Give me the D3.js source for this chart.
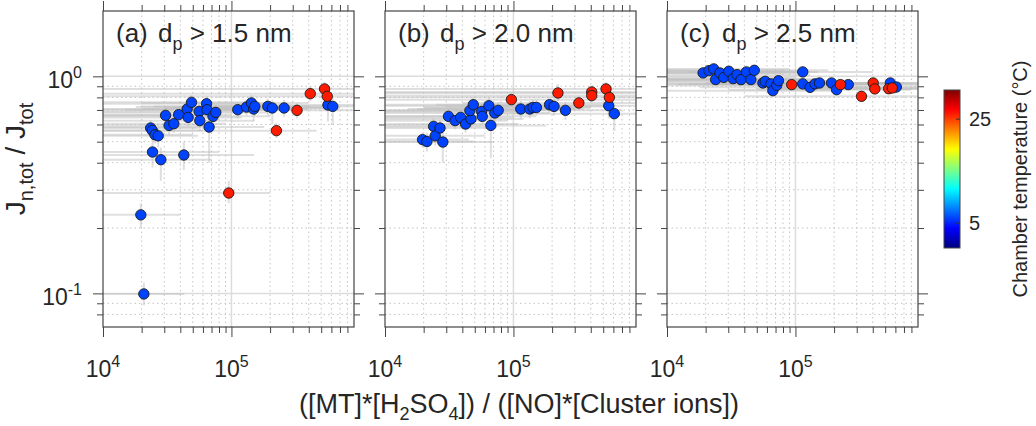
<!DOCTYPE html>
<html>
<head>
<meta charset="utf-8">
<script src="https://cdn.jsdelivr.net/npm/d3@7"></script>
<style>
  body { margin: 0; background: #fff; }
  text { font-family: "Liberation Sans", Arial, Helvetica, sans-serif; fill: #262626; }
</style>
</head>
<body>
<svg id="chart"></svg>
<script>
// [x, y, temperature, xLo, xHi, yLo, yHi]
const panelA = [
  [2.35e4, 0.578, 6, 5e3, 5.5e4, 0.53, 0.63],
  [2.42e4, 0.563, 6, 5e3, 6.0e4, 0.51, 0.61],
  [2.54e4, 0.538, 6, 5e3, 5.0e4, 0.49, 0.58],
  [2.69e4, 0.532, 6, 5e3, 5.5e4, 0.47, 0.58],
  [2.43e4, 0.448, 6, 5e3, 8.0e4, 0.38, 0.52],
  [2.82e4, 0.413, 6, 5e3, 7.0e4, 0.33, 0.47],
  [3.07e4, 0.661, 6, 5e3, 8.0e4, 0.60, 0.72],
  [3.27e4, 0.594, 6, 5e3, 7.0e4, 0.54, 0.65],
  [3.56e4, 0.605, 6, 5e3, 9.0e4, 0.55, 0.66],
  [3.88e4, 0.666, 6, 5e3, 1.0e5, 0.61, 0.72],
  [4.26e4, 0.434, 6, 5e3, 1.5e5, 0.37, 0.50],
  [4.52e4, 0.707, 6, 5e3, 1.2e5, 0.65, 0.77],
  [4.89e4, 0.759, 6, 5e3, 1.3e5, 0.70, 0.82],
  [4.60e4, 0.647, 6, 5e3, 1.2e5, 0.59, 0.71],
  [5.60e4, 0.689, 6, 5e3, 1.5e5, 0.63, 0.75],
  [5.67e4, 0.625, 6, 5e3, 1.5e5, 0.56, 0.69],
  [6.40e4, 0.748, 6, 5e3, 1.8e5, 0.69, 0.81],
  [6.46e4, 0.702, 6, 5e3, 1.7e5, 0.64, 0.76],
  [7.19e4, 0.654, 6, 5e3, 2.0e5, 0.60, 0.71],
  [6.70e4, 0.584, 6, 5e3, 1.8e5, 0.40, 0.64],
  [7.55e4, 0.682, 6, 5e3, 2.0e5, 0.62, 0.74],
  [1.12e5, 0.702, 6, 1.5e4, 3.0e5, 0.64, 0.76],
  [1.31e5, 0.722, 6, 1.8e4, 3.5e5, 0.66, 0.78],
  [1.43e5, 0.754, 6, 2.0e4, 4.0e5, 0.69, 0.82],
  [1.49e5, 0.707, 6, 2.0e4, 4.0e5, 0.62, 0.77],
  [1.52e5, 0.727, 6, 2.0e4, 4.0e5, 0.66, 0.79],
  [1.92e5, 0.727, 6, 2.5e4, 5.0e5, 0.66, 0.79],
  [2.08e5, 0.715, 6, 3.0e4, 5.5e5, 0.60, 0.78],
  [2.57e5, 0.715, 6, 3.5e4, 7.0e5, 0.65, 0.78],
  [5.64e5, 0.738, 6, 7.0e4, 1.5e6, 0.62, 0.80],
  [6.15e5, 0.727, 6, 8.0e4, 1.6e6, 0.60, 0.79],
  [1.97e4, 0.230, 6, 5e3, 4.0e4, 0.20, 0.26],
  [2.08e4, 0.0994, 6, 5e3, 4.3e4, 0.088, 0.112],
  [3.24e5, 0.697, 26, 4.0e4, 1.5e6, 0.64, 0.75],
  [4.11e5, 0.832, 26, 5e3, 2.0e6, 0.77, 0.90],
  [5.31e5, 0.875, 26, 5e3, 2.0e6, 0.81, 0.94],
  [5.57e5, 0.809, 26, 5e3, 2.0e6, 0.75, 0.87],
  [2.24e5, 0.562, 26, 5e3, 4.6e5, 0.52, 0.61],
  [9.53e4, 0.290, 26, 5e3, 2.0e5, 0.26, 0.33]
];

const panelB = [
  [1.96e4, 0.511, 6, 5e3, 4.5e4, 0.47, 0.55],
  [2.12e4, 0.501, 6, 5e3, 5.0e4, 0.45, 0.55],
  [2.39e4, 0.588, 6, 5e3, 6.0e4, 0.54, 0.64],
  [2.46e4, 0.532, 6, 5e3, 6.0e4, 0.48, 0.58],
  [2.68e4, 0.578, 6, 5e3, 6.5e4, 0.53, 0.63],
  [2.82e4, 0.498, 6, 5e3, 7.0e4, 0.40, 0.55],
  [3.12e4, 0.654, 6, 5e3, 8.0e4, 0.60, 0.71],
  [3.51e4, 0.625, 6, 5e3, 9.0e4, 0.57, 0.68],
  [3.88e4, 0.647, 6, 5e3, 1.0e5, 0.59, 0.70],
  [4.24e4, 0.603, 6, 5e3, 1.1e5, 0.55, 0.66],
  [4.67e4, 0.636, 6, 5e3, 1.2e5, 0.58, 0.69],
  [4.58e4, 0.695, 6, 5e3, 1.2e5, 0.64, 0.75],
  [4.87e4, 0.740, 6, 5e3, 1.3e5, 0.68, 0.80],
  [5.65e4, 0.689, 6, 5e3, 1.5e5, 0.63, 0.75],
  [5.72e4, 0.654, 6, 5e3, 1.5e5, 0.60, 0.71],
  [6.44e4, 0.732, 6, 5e3, 1.7e5, 0.67, 0.80],
  [6.67e4, 0.594, 6, 5e3, 1.8e5, 0.42, 0.65],
  [7.16e4, 0.678, 6, 5e3, 1.9e5, 0.62, 0.74],
  [7.61e4, 0.697, 6, 5e3, 2.0e5, 0.64, 0.76],
  [1.14e5, 0.707, 6, 1.5e4, 3.0e5, 0.64, 0.77],
  [1.34e5, 0.707, 6, 1.8e4, 3.5e5, 0.64, 0.77],
  [1.42e5, 0.719, 6, 2.0e4, 4.0e5, 0.66, 0.78],
  [1.51e5, 0.719, 6, 2.0e4, 4.0e5, 0.66, 0.78],
  [1.91e5, 0.740, 6, 2.5e4, 5.0e5, 0.68, 0.80],
  [2.07e5, 0.727, 6, 3.0e4, 5.5e5, 0.66, 0.79],
  [2.54e5, 0.697, 6, 3.5e4, 7.0e5, 0.63, 0.76],
  [5.52e5, 0.732, 6, 7.0e4, 1.5e6, 0.64, 0.80],
  [6.10e5, 0.673, 6, 8.0e4, 1.6e6, 0.56, 0.74],
  [9.64e4, 0.781, 26, 5e3, 1.0e6, 0.73, 0.84],
  [2.22e5, 0.838, 26, 5e3, 2.0e6, 0.77, 0.92],
  [3.23e5, 0.754, 26, 4.0e4, 1.5e6, 0.70, 0.81],
  [4.07e5, 0.847, 26, 5e3, 2.0e6, 0.79, 0.91],
  [4.07e5, 0.815, 26, 5e3, 2.0e6, 0.76, 0.88],
  [5.26e5, 0.875, 26, 5e3, 2.0e6, 0.81, 0.94],
  [5.58e5, 0.800, 26, 5e3, 2.0e6, 0.74, 0.86]
];

const panelC = [
  [1.91e4, 1.037, 6, 5e3, 8.0e4, 0.99, 1.09],
  [2.12e4, 1.062, 6, 5e3, 8.0e4, 1.01, 1.11],
  [2.31e4, 1.082, 6, 5e3, 9.0e4, 1.03, 1.13],
  [2.39e4, 0.966, 6, 5e3, 9.0e4, 0.92, 1.01],
  [2.58e4, 1.037, 6, 5e3, 1.0e5, 0.99, 1.09],
  [2.77e4, 0.989, 6, 5e3, 1.0e5, 0.94, 1.04],
  [3.03e4, 1.055, 6, 5e3, 1.1e5, 1.00, 1.11],
  [3.27e4, 0.976, 6, 5e3, 1.2e5, 0.93, 1.02],
  [3.51e4, 1.018, 6, 5e3, 1.3e5, 0.97, 1.07],
  [3.77e4, 0.966, 6, 5e3, 1.4e5, 0.92, 1.01],
  [4.15e4, 1.048, 6, 5e3, 1.5e5, 1.00, 1.10],
  [4.50e4, 0.966, 6, 5e3, 1.6e5, 0.92, 1.01],
  [4.78e4, 1.066, 6, 5e3, 1.8e5, 1.01, 1.12],
  [5.58e4, 0.932, 6, 5e3, 2.0e5, 0.89, 0.98],
  [5.82e4, 0.948, 6, 5e3, 2.0e5, 0.90, 1.00],
  [6.44e4, 0.923, 6, 5e3, 2.2e5, 0.88, 0.97],
  [6.67e4, 0.859, 6, 5e3, 2.2e5, 0.81, 0.91],
  [7.16e4, 0.909, 6, 5e3, 2.5e5, 0.86, 0.96],
  [7.38e4, 0.955, 6, 5e3, 2.5e5, 0.91, 1.00],
  [1.14e5, 1.048, 6, 1.5e4, 4.0e5, 0.99, 1.10],
  [1.14e5, 0.923, 6, 1.5e4, 4.0e5, 0.88, 0.97],
  [1.30e5, 0.890, 6, 1.8e4, 5.0e5, 0.85, 0.94],
  [1.42e5, 0.923, 6, 2.0e4, 5.0e5, 0.88, 0.97],
  [1.54e5, 0.932, 6, 2.0e4, 6.0e5, 0.89, 0.98],
  [1.91e5, 0.932, 6, 2.5e4, 7.0e5, 0.89, 0.98],
  [2.09e5, 0.868, 6, 3.0e4, 8.0e5, 0.82, 0.92],
  [2.58e5, 0.916, 6, 3.5e4, 1.0e6, 0.87, 0.96],
  [5.48e5, 0.932, 6, 7.0e4, 2.0e6, 0.88, 0.98],
  [6.10e5, 0.893, 6, 8.0e4, 2.0e6, 0.84, 0.94],
  [9.35e4, 0.916, 26, 1.2e4, 3.5e5, 0.87, 0.96],
  [2.24e5, 0.916, 26, 3.0e4, 9.0e5, 0.87, 0.96],
  [3.27e5, 0.809, 26, 4.0e4, 1.2e6, 0.77, 0.85],
  [4.03e5, 0.932, 26, 5.0e4, 1.5e6, 0.89, 0.98],
  [4.15e5, 0.875, 26, 5.0e4, 1.5e6, 0.83, 0.92],
  [5.32e5, 0.877, 26, 6.0e4, 2.0e6, 0.83, 0.92],
  [5.67e5, 0.884, 26, 7.0e4, 2.0e6, 0.84, 0.93]
];

const panelLetters = ["(a)", "(b)", "(c)"];
const sizeCuts = ["1.5", "2.0", "2.5"];
const xMajor = [1e4, 1e5];
const xMinor = [2e4, 3e4, 4e4, 5e4, 6e4, 7e4, 8e4, 9e4, 2e5, 3e5, 4e5, 5e5, 6e5, 7e5, 8e5];
const yMajor = [0.1, 1];
const yMinor = [0.08, 0.09, 0.2, 0.3, 0.4, 0.5, 0.6, 0.7, 0.8, 0.9];
const cbTicks = [5, 25];

const width = 1036, height = 426;
const plotTop = 11, pw = 251, ph = 316, step = 282, left0 = 103;
const axisColor = "#444";

const svg = d3.select("#chart").attr("width", width).attr("height", height);

const x = d3.scaleLog().domain([1e4, 9e5]).range([0, pw]);
const y = d3.scaleLog().domain([0.07, 2]).range([ph, 0]);

// MATLAB-like jet colormap
function jet(t) {
  const c = v => Math.max(0, Math.min(1, v));
  const r = c(1.5 - Math.abs(4 * t - 3));
  const g = c(1.5 - Math.abs(4 * t - 2));
  const b = c(1.5 - Math.abs(4 * t - 1));
  return d3.rgb(r * 255, g * 255, b * 255).formatHex();
}
const tDomain = [0.2, 30.6];
const color = v => jet((v - tDomain[0]) / (tDomain[1] - tDomain[0]));

svg.append("defs").append("clipPath").attr("id", "plotClip")
  .append("rect").attr("width", pw).attr("height", ph);

function power(sel, exp) {
  sel.append("tspan").text("10");
  sel.append("tspan").attr("font-size", 16).attr("dy", -10).text(exp);
}

[panelA, panelB, panelC].forEach((data, i) => {
  const g = svg.append("g").attr("transform", `translate(${left0 + i * step},${plotTop})`);

  // grid
  g.append("g").selectAll("line").data(xMinor).enter().append("line")
    .attr("x1", d => x(d)).attr("x2", d => x(d)).attr("y1", 0).attr("y2", ph)
    .attr("stroke", "#c4c4c4").attr("stroke-dasharray", "1.5,3");
  g.append("g").selectAll("line").data(yMinor).enter().append("line")
    .attr("y1", d => y(d)).attr("y2", d => y(d)).attr("x1", 0).attr("x2", pw)
    .attr("stroke", "#c4c4c4").attr("stroke-dasharray", "1.5,3");
  g.append("line").attr("x1", x(1e5)).attr("x2", x(1e5)).attr("y1", 0).attr("y2", ph)
    .attr("stroke", "#dcdcdc").attr("stroke-width", 1.5);
  g.append("g").selectAll("line").data(yMajor).enter().append("line")
    .attr("y1", d => y(d)).attr("y2", d => y(d)).attr("x1", 0).attr("x2", pw)
    .attr("stroke", "#dcdcdc").attr("stroke-width", 1.5);

  // error bars
  const err = g.append("g").attr("clip-path", "url(#plotClip)")
    .attr("stroke", "#c0c0c0").attr("stroke-opacity", 0.5).attr("stroke-width", 2);
  err.selectAll(".hx").data(data).enter().append("line")
    .attr("x1", d => x(d[3])).attr("x2", d => x(d[4]))
    .attr("y1", d => y(d[1])).attr("y2", d => y(d[1]));
  err.selectAll(".vy").data(data).enter().append("line")
    .attr("x1", d => x(d[0])).attr("x2", d => x(d[0]))
    .attr("y1", d => y(d[5])).attr("y2", d => y(d[6]));

  // points
  g.append("g").selectAll("circle").data(data).enter().append("circle")
    .attr("cx", d => x(d[0])).attr("cy", d => y(d[1])).attr("r", 5.2)
    .attr("fill", d => color(d[2])).attr("stroke", "#1a1a1a").attr("stroke-width", 0.9);

  // axes on four sides, ticks outward
  const styleAxis = a => {
    a.select(".domain").remove();
    a.selectAll("line").attr("stroke", axisColor);
  };
  [[d3.axisBottom, `translate(0,${ph})`, x], [d3.axisTop, "translate(0,0)", x],
   [d3.axisLeft, "translate(0,0)", y], [d3.axisRight, `translate(${pw},0)`, y]]
    .forEach(([fn, tr, sc]) => {
      const minor = sc === x ? xMinor : yMinor;
      const major = sc === x ? xMajor : yMajor;
      g.append("g").attr("transform", tr)
        .call(fn(sc).tickValues(minor).tickSize(6).tickFormat("")).call(styleAxis);
      g.append("g").attr("transform", tr)
        .call(fn(sc).tickValues(major).tickSize(10).tickFormat("")).call(styleAxis);
    });

  g.append("rect").attr("width", pw).attr("height", ph)
    .attr("fill", "none").attr("stroke", axisColor).attr("stroke-width", 1.2);

  // x tick labels
  g.append("g").selectAll("text").data(xMajor).enter().append("text")
    .attr("x", d => x(d)).attr("y", ph + 50).attr("text-anchor", "middle")
    .attr("font-size", 23)
    .each(function (d) { power(d3.select(this), Math.round(Math.log10(d))); });

  // y tick labels (first panel only)
  if (i === 0) {
    g.append("g").selectAll("text").data(yMajor).enter().append("text")
      .attr("x", -21).attr("y", d => y(d) + 12).attr("text-anchor", "end")
      .attr("font-size", 23)
      .each(function (d) { power(d3.select(this), Math.round(Math.log10(d))); });
  }

  // panel title
  const t = g.append("text").attr("y", 31).attr("font-size", 26);
  t.append("tspan").attr("x", 13).text(panelLetters[i]);
  t.append("tspan").attr("x", 55).text("d");
  t.append("tspan").attr("font-size", 18).attr("dy", 8).text("p");
  t.append("tspan").attr("dy", -8).text(` > ${sizeCuts[i]} nm`);
});

// y axis label
const yl = svg.append("text")
  .attr("transform", `translate(25,${plotTop + ph / 2 - 10}) rotate(-90)`)
  .attr("text-anchor", "middle").attr("font-size", 28);
yl.append("tspan").text("J");
yl.append("tspan").attr("font-size", 20).attr("dy", 8).text("n,tot");
yl.append("tspan").attr("dy", -8).text(" / J");
yl.append("tspan").attr("font-size", 20).attr("dy", 8).text("tot");

// x axis label
const xl = svg.append("text").attr("x", 519).attr("y", 413)
  .attr("text-anchor", "middle").attr("font-size", 27);
xl.append("tspan").text("([MT]*[H");
xl.append("tspan").attr("font-size", 18).attr("dy", 7).text("2");
xl.append("tspan").attr("dy", -7).text("SO");
xl.append("tspan").attr("font-size", 18).attr("dy", 7).text("4");
xl.append("tspan").attr("dy", -7).text("]) / ([NO]*[Cluster ions])");

// colorbar
const cbX = 944, cbW = 16, cbTop = 90, cbBot = 248;
const cy = d3.scaleLinear().domain(tDomain).range([cbBot, cbTop]);
const grad = svg.select("defs").append("linearGradient").attr("id", "jetGrad")
  .attr("x1", 0).attr("x2", 0).attr("y1", 1).attr("y2", 0);
d3.range(0, 1.0001, 0.02).forEach(s => {
  grad.append("stop").attr("offset", s).attr("stop-color", jet(s));
});
svg.append("rect").attr("x", cbX).attr("y", cbTop).attr("width", cbW).attr("height", cbBot - cbTop)
  .attr("fill", "url(#jetGrad)").attr("stroke", axisColor).attr("stroke-width", 1);
svg.append("g").selectAll("line").data(cbTicks).enter().append("line")
  .attr("x1", cbX + cbW - 4).attr("x2", cbX + cbW).attr("y1", d => cy(d)).attr("y2", d => cy(d))
  .attr("stroke", "#333");
svg.append("g").selectAll("text").data(cbTicks).enter().append("text")
  .attr("x", cbX + cbW + 9).attr("y", d => cy(d) + 7).attr("font-size", 20).text(d => d);
svg.append("text")
  .attr("transform", `translate(1027,${(cbTop + cbBot) / 2 + 10}) rotate(-90)`)
  .attr("text-anchor", "middle").attr("font-size", 20)
  .text("Chamber temperature (°C)");
</script>
</body>
</html>
